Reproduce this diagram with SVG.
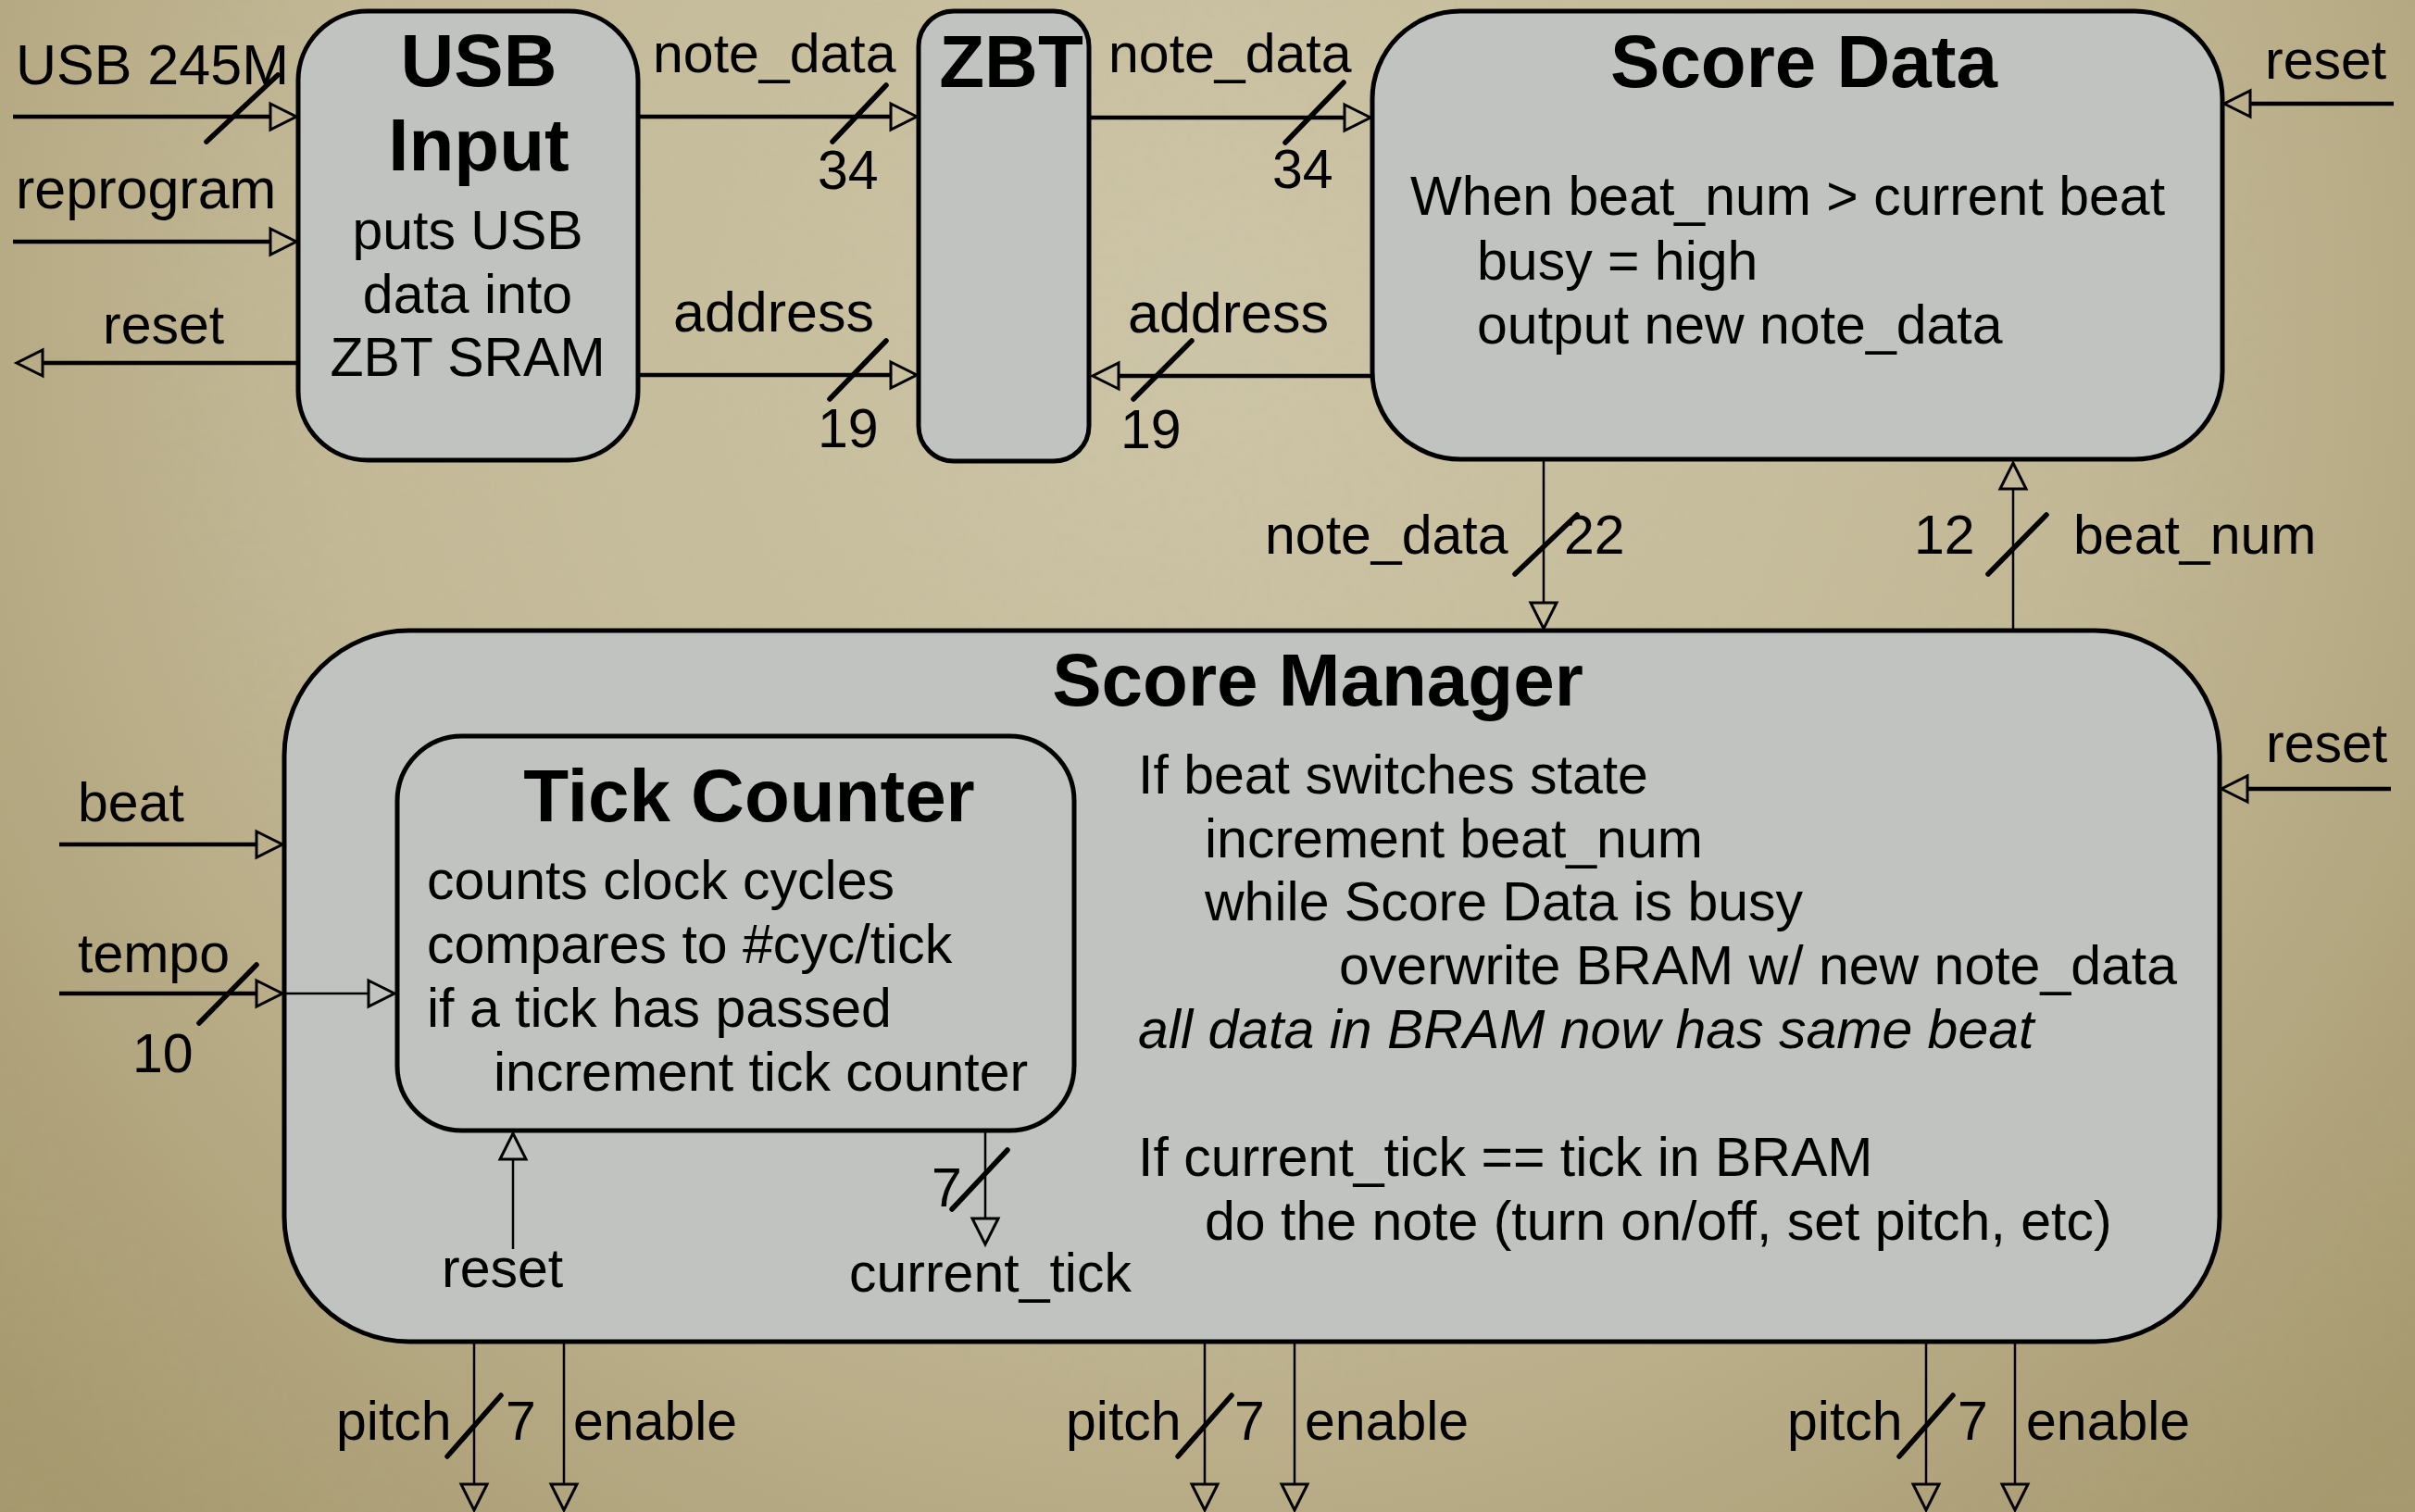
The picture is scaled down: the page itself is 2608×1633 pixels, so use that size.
<svg xmlns="http://www.w3.org/2000/svg" width="2608" height="1633" viewBox="0 0 2608 1633">
  <defs>
    <radialGradient id="paper" gradientUnits="userSpaceOnUse" cx="1300" cy="350" r="1750">
      <stop offset="0" stop-color="#cec6a8"/>
      <stop offset="0.55" stop-color="#c3b996"/>
      <stop offset="1" stop-color="#a6986d"/>
    </radialGradient>
    <filter id="grain" x="0" y="0" width="100%" height="100%">
      <feTurbulence type="fractalNoise" baseFrequency="0.08" numOctaves="2" seed="7" result="n"/>
      <feColorMatrix in="n" type="matrix" values="0 0 0 0 0.45  0 0 0 0 0.40  0 0 0 0 0.28  0 0 0 0.10 0"/>
    </filter>
    <!-- hollow triangular arrowhead; path ends at the triangle base -->
    <marker id="arr" markerUnits="userSpaceOnUse" viewBox="0 0 32 32" markerWidth="32" markerHeight="32" refX="1.5" refY="16" orient="auto" overflow="visible">
      <path d="M1.5,2 L29.5,16 L1.5,30 Z" fill="none" stroke="#000" stroke-width="3" stroke-linejoin="miter"/>
    </marker>
    <style>
      .box { fill: #c1c3c1; stroke: #000; stroke-width: 5; }
      .t { font-family: "Liberation Sans", Arial, Helvetica, sans-serif; font-size: 59px; fill: #000; }
      .big { font-size: 61px; }
      .title { font-family: "Liberation Sans", Arial, Helvetica, sans-serif; font-size: 80px; font-weight: bold; fill: #000; text-anchor: middle; }
      .mid { text-anchor: middle; }
      .it { font-style: italic; }
      .bus { fill: none; stroke: #000; stroke-width: 4.5; marker-end: url(#arr); }
      .wire { fill: none; stroke: #000; stroke-width: 2.5; marker-end: url(#arr); }
      .slash { stroke: #000; stroke-width: 5.5; stroke-linecap: round; }
    </style>
  </defs>

  <!-- background -->
  <rect width="2608" height="1633" fill="url(#paper)"/>
  <rect width="2608" height="1633" filter="url(#grain)"/>

  <!-- USB Input -->
  <g id="usb-input">
    <rect class="box" x="322" y="12" width="367" height="485" rx="75" ry="75"/>
    <text class="title" x="517" y="93">USB</text>
    <text class="title" x="517" y="184">Input</text>
    <text class="t mid" x="505" y="269">puts USB</text>
    <text class="t mid" x="505" y="338">data into</text>
    <text class="t mid" x="505" y="406">ZBT SRAM</text>
  </g>

  <!-- ZBT -->
  <g id="zbt">
    <rect class="box" x="992" y="12" width="184" height="486" rx="38" ry="38"/>
    <text class="title" x="1092" y="94">ZBT</text>
  </g>

  <!-- Score Data -->
  <g id="score-data">
    <rect class="box" x="1482" y="12" width="918" height="484" rx="95" ry="95"/>
    <text class="title" x="1948" y="94">Score Data</text>
    <text class="t" x="1523" y="232">When beat_num &gt; current beat</text>
    <text class="t" x="1595" y="302">busy = high</text>
    <text class="t" x="1595" y="371">output new note_data</text>
  </g>

  <!-- Score Manager -->
  <g id="score-manager">
    <rect class="box" x="307" y="681" width="2090" height="768" rx="135" ry="135"/>
    <text class="title" x="1423" y="762">Score Manager</text>
    <text class="t" x="1229" y="857">If beat switches state</text>
    <text class="t" x="1301" y="926">increment beat_num</text>
    <text class="t" x="1301" y="994">while Score Data is busy</text>
    <text class="t" x="1446" y="1063">overwrite BRAM w/ new note_data</text>
    <text class="t it" x="1229" y="1132">all data in BRAM now has same beat</text>
    <text class="t" x="1229" y="1270">If current_tick == tick in BRAM</text>
    <text class="t" x="1301" y="1339">do the note (turn on/off, set pitch, etc)</text>
  </g>

  <!-- Tick Counter (inside Score Manager) -->
  <g id="tick-counter">
    <rect class="box" x="429" y="795" width="731" height="426" rx="70" ry="70"/>
    <text class="title" x="809" y="887">Tick Counter</text>
    <text class="t" x="461" y="971">counts clock cycles</text>
    <text class="t" x="461" y="1040">compares to #cyc/tick</text>
    <text class="t" x="461" y="1109">if a tick has passed</text>
    <text class="t" x="533" y="1178">increment tick counter</text>
  </g>

  <!-- connectors -->
  <g id="connectors">
    <!-- USB Input ports -->
    <path class="bus" d="M14,126 H292"/>
    <line class="slash" x1="223" y1="153" x2="300" y2="81"/>
    <text class="t big" x="17" y="91">USB 245M</text>

    <path class="bus" d="M14,261 H292"/>
    <text class="t big" x="17" y="225">reprogram</text>

    <path class="bus" d="M322,392 H46"/>
    <text class="t" x="111" y="371">reset</text>

    <!-- USB Input to ZBT -->
    <path class="bus" d="M689,126 H962"/>
    <line class="slash" x1="899" y1="153" x2="957" y2="92"/>
    <text class="t" x="705" y="78">note_data</text>
    <text class="t" x="883" y="204">34</text>

    <path class="bus" d="M689,405 H962"/>
    <line class="slash" x1="896" y1="431" x2="957" y2="368"/>
    <text class="t big" x="727" y="358">address</text>
    <text class="t" x="883" y="483">19</text>

    <!-- ZBT to / from Score Data -->
    <path class="bus" d="M1176,127 H1452"/>
    <line class="slash" x1="1388" y1="154" x2="1451" y2="89"/>
    <text class="t" x="1197" y="78">note_data</text>
    <text class="t" x="1374" y="203">34</text>

    <path class="bus" d="M1482,406 H1208"/>
    <line class="slash" x1="1224" y1="431" x2="1287" y2="368"/>
    <text class="t big" x="1218" y="359">address</text>
    <text class="t" x="1210" y="484">19</text>

    <!-- Score Data reset -->
    <path class="bus" d="M2585,112 H2430"/>
    <text class="t" x="2446" y="85">reset</text>

    <!-- Score Data <-> Score Manager -->
    <path class="wire" d="M1667,498 V651"/>
    <line class="slash" x1="1636" y1="620" x2="1703" y2="556"/>
    <text class="t" x="1366" y="598">note_data</text>
    <text class="t" x="1689" y="598">22</text>

    <path class="wire" d="M2174,681 V528"/>
    <line class="slash" x1="2147" y1="620" x2="2210" y2="556"/>
    <text class="t" x="2067" y="598">12</text>
    <text class="t" x="2239" y="598">beat_num</text>

    <!-- Score Manager inputs -->
    <path class="bus" d="M64,912 H277"/>
    <text class="t" x="84" y="887">beat</text>

    <path class="bus" d="M64,1073 H277"/>
    <path class="wire" d="M307,1073 H398"/>
    <line class="slash" x1="215" y1="1105" x2="277" y2="1042"/>
    <text class="t" x="84" y="1050">tempo</text>
    <text class="t" x="143" y="1158">10</text>

    <path class="bus" d="M2582,852 H2427"/>
    <text class="t" x="2447" y="823">reset</text>

    <!-- Tick Counter reset / current_tick -->
    <path class="wire" d="M554,1349 V1252"/>
    <text class="t" x="477" y="1390">reset</text>

    <path class="wire" d="M1064,1222 V1316"/>
    <line class="slash" x1="1028" y1="1306" x2="1088" y2="1242"/>
    <text class="t" x="1006" y="1303">7</text>
    <text class="t" x="917" y="1395">current_tick</text>

    <!-- voice outputs -->
    <path class="wire" d="M512,1450 V1603"/>
    <path class="wire" d="M609,1450 V1603"/>
    <line class="slash" x1="483" y1="1573" x2="541" y2="1507"/>
    <text class="t" x="363" y="1555">pitch</text>
    <text class="t" x="546" y="1555">7</text>
    <text class="t" x="619" y="1555">enable</text>

    <path class="wire" d="M1301,1450 V1603"/>
    <path class="wire" d="M1398,1450 V1603"/>
    <line class="slash" x1="1272" y1="1573" x2="1330" y2="1507"/>
    <text class="t" x="1151" y="1555">pitch</text>
    <text class="t" x="1333" y="1555">7</text>
    <text class="t" x="1409" y="1555">enable</text>

    <path class="wire" d="M2080,1450 V1603"/>
    <path class="wire" d="M2176,1450 V1603"/>
    <line class="slash" x1="2051" y1="1573" x2="2109" y2="1507"/>
    <text class="t" x="1930" y="1555">pitch</text>
    <text class="t" x="2114" y="1555">7</text>
    <text class="t" x="2188" y="1555">enable</text>
  </g>
</svg>
